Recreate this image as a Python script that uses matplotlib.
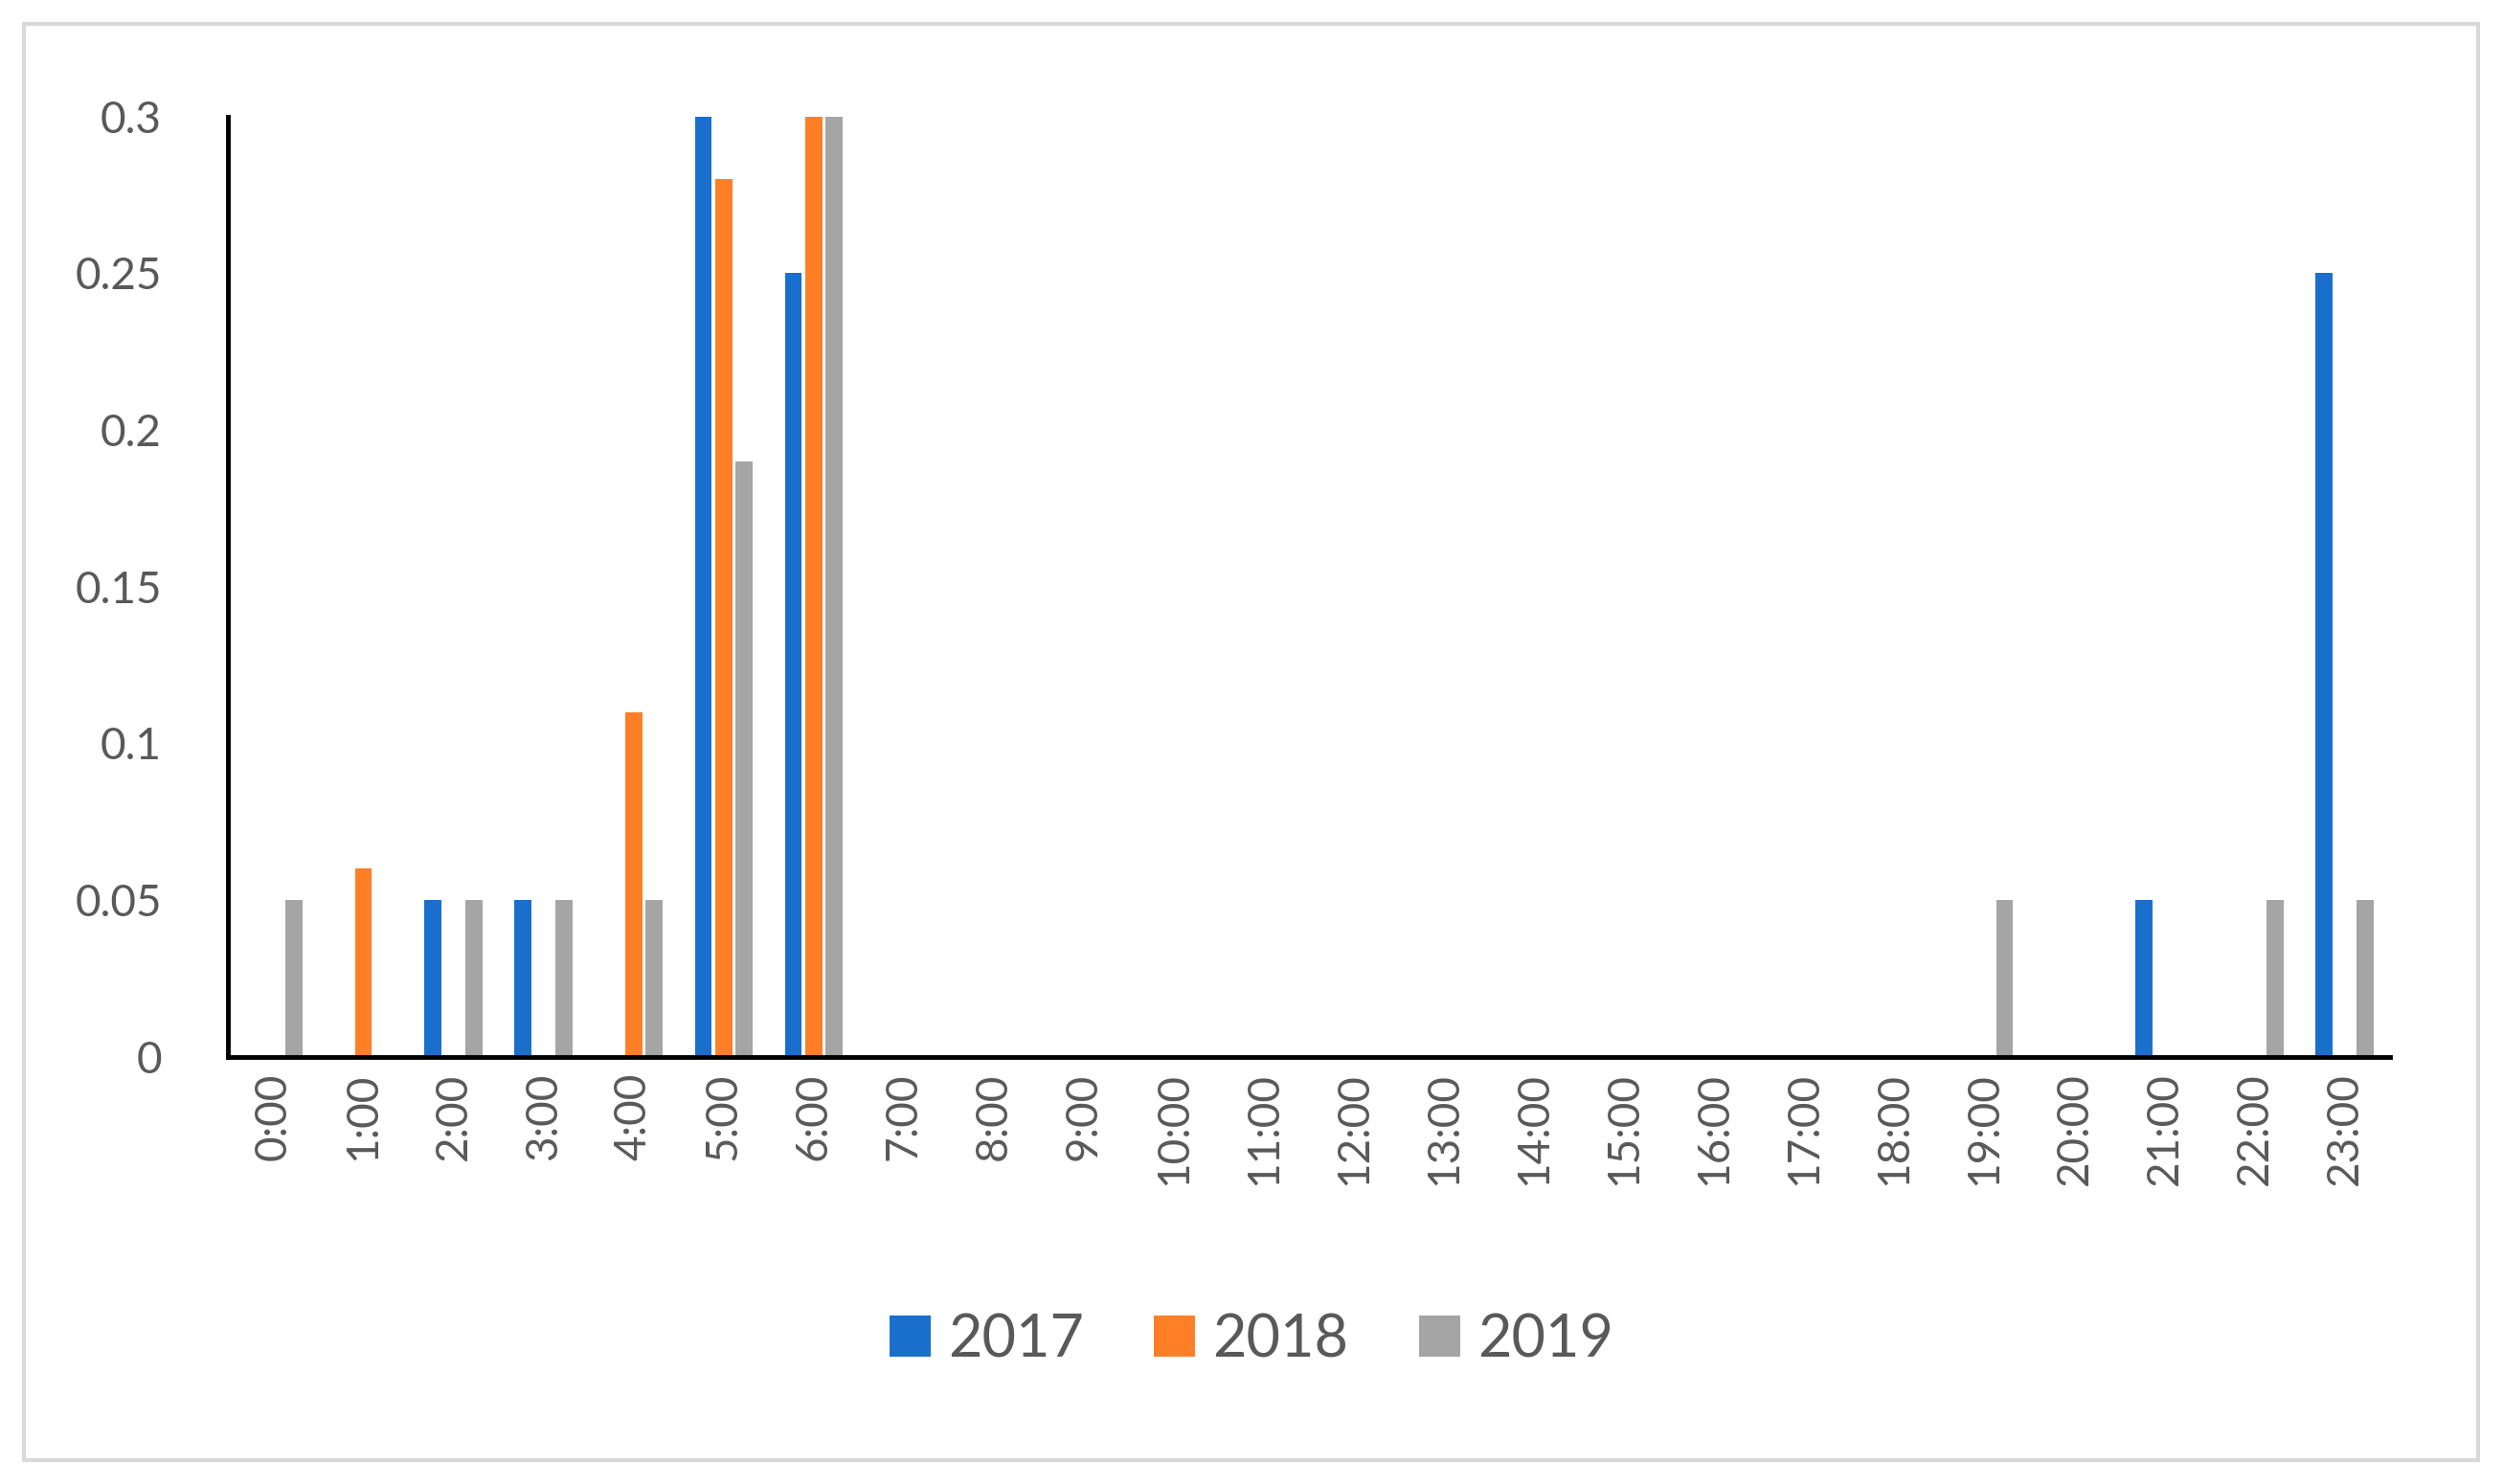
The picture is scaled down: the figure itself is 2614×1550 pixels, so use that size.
import numpy as np
import matplotlib.pyplot as plt
from matplotlib.patches import Rectangle

plt.rcParams['font.family'] = ['Lato', 'DejaVu Sans']

hours = [f"{h}:00" for h in range(24)]
v2017 = [0, 0, 0.05, 0.05, 0, 0.3, 0.25] + [0] * 14 + [0.05, 0, 0.25]
v2018 = [0, 0.06, 0, 0, 0.11, 0.28, 0.3] + [0] * 17
v2019 = [0.05, 0, 0.05, 0.05, 0.05, 0.19, 0.3] + [0] * 12 + [0.05, 0, 0, 0.05, 0.05]

colors = ["#1a6fcc", "#ff7f27", "#a5a5a5"]
txt = "#595959"

fig = plt.figure(figsize=(26.14, 15.5), dpi=100)
fig.patches.append(Rectangle((0.0096, 0.016), 0.9805, 0.968, transform=fig.transFigure,
                             fill=False, edgecolor="#d9d9d9", linewidth=3))
ax = fig.add_axes([0.0912, 0.288, 0.8635, 0.6335])

x = np.arange(24)
w = 0.19
for i, (vals, lab) in enumerate(zip([v2017, v2018, v2019], ["2017", "2018", "2019"])):
    ax.bar(x + (i - 1) * 0.225, vals, w, color=colors[i], label=lab)

ax.set_xlim(-0.5, 23.5)
ax.set_ylim(0, 0.3)
ax.set_yticks([0, 0.05, 0.1, 0.15, 0.2, 0.25, 0.3])
ax.set_yticklabels(["0", "0.05", "0.1", "0.15", "0.2", "0.25", "0.3"])
ax.set_xticks(x)
ax.set_xticklabels(hours, rotation=90)
ax.tick_params(axis="both", length=0, labelsize=33, labelcolor=txt)
ax.tick_params(axis="y", pad=50)
ax.tick_params(axis="x", pad=12)
for s in ["top", "right"]:
    ax.spines[s].set_visible(False)
for s in ["left", "bottom"]:
    ax.spines[s].set_linewidth(3.5)
    ax.spines[s].set_color("black")

fig.legend(loc="center", bbox_to_anchor=(0.5, 0.097), ncol=3, frameon=False,
           fontsize=44, labelcolor=txt, handlelength=0.7, handleheight=0.7,
           columnspacing=1.2, handletextpad=0.3)

fig.savefig("out.png", dpi=100)
